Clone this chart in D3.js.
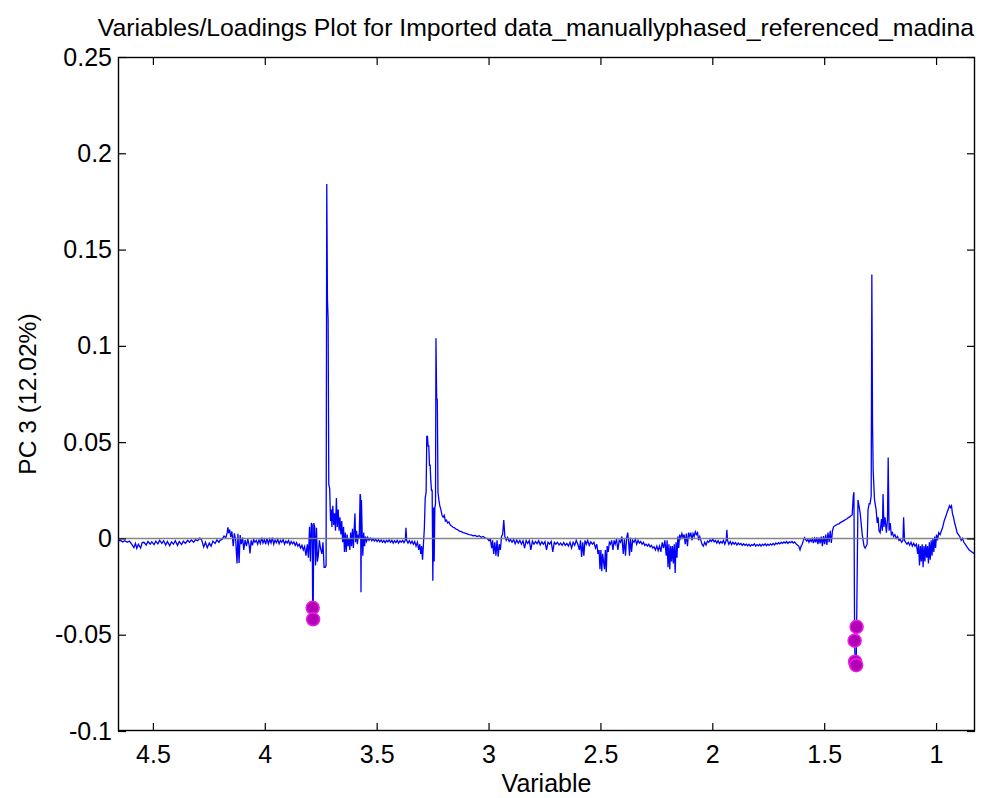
<!DOCTYPE html>
<html>
<head>
<meta charset="utf-8">
<script src="https://cdn.jsdelivr.net/npm/d3@7"></script>
<style>
  body { margin: 0; background: #fff; }
  svg { display: block; font-family: "Liberation Sans", Arial, sans-serif; }
  .tick line { stroke: #000; stroke-width: 1.2; }
  .tick text { font-size: 25px; fill: #000; }
</style>
</head>
<body>
<main></main>
<script>
// Ejes / etiquetas
const titulo = 'Variables/Loadings Plot for Imported data_manuallyphased_referenced_madina';
const etiquetaX = 'Variable';
const etiquetaY = 'PC 3 (12.02%)';
const ticksX = [4.5, 4, 3.5, 3, 2.5, 2, 1.5, 1];
const ticksY = [-0.1, -0.05, 0, 0.05, 0.1, 0.15, 0.2, 0.25];
const dominioX = [4.656, 0.826];
const dominioY = [-0.1, 0.25];

// Desplazamiento químico (ppm) de cada variable
const ppm = [
  4.655, 4.645, 4.635, 4.625, 4.615, 4.605, 4.595, 4.585, 4.578, 4.572, 4.565, 4.555, 4.548, 4.540, 4.530, 4.522, 4.512, 4.505, 4.495, 4.487,
  4.478, 4.470, 4.460, 4.452, 4.443, 4.435, 4.425, 4.417, 4.408, 4.400, 4.390, 4.382, 4.372, 4.364, 4.355, 4.345, 4.337, 4.328, 4.318, 4.310,
  4.300, 4.290, 4.282, 4.273, 4.265, 4.257, 4.248, 4.240, 4.232, 4.222, 4.214, 4.205,
  4.200, 4.190, 4.182, 4.174, 4.168, 4.165, 4.161, 4.157, 4.152, 4.147, 4.141, 4.136, 4.130, 4.124, 4.120, 4.115, 4.110, 4.105, 4.099, 4.094,
  4.088, 4.082, 4.076, 4.070, 4.066, 4.061, 4.055, 4.050, 4.044,
  4.038, 4.032, 4.026, 4.020, 4.014, 4.008, 4.002, 3.996, 3.990, 3.984, 3.978, 3.972, 3.966, 3.960, 3.954, 3.948, 3.942, 3.936, 3.930, 3.924,
  3.918, 3.912, 3.906, 3.900, 3.894, 3.888, 3.882, 3.876, 3.870, 3.864, 3.858, 3.852, 3.846, 3.840, 3.834, 3.828, 3.822, 3.816, 3.810, 3.805,
  3.800, 3.796, 3.792, 3.788, 3.786, 3.784, 3.781, 3.777, 3.773, 3.769, 3.765, 3.761, 3.756, 3.751, 3.745, 3.740, 3.735, 3.730, 3.726,
  3.723, 3.720, 3.717, 3.714, 3.710, 3.706, 3.703, 3.700, 3.696, 3.692, 3.688, 3.684, 3.680, 3.676, 3.672, 3.668, 3.664, 3.660, 3.656, 3.652,
  3.648, 3.644, 3.640, 3.636, 3.632, 3.628, 3.624, 3.620, 3.616, 3.612, 3.608, 3.604, 3.600, 3.597, 3.594, 3.590, 3.586, 3.582, 3.578, 3.574,
  3.572, 3.570, 3.568, 3.565, 3.562, 3.558, 3.554, 3.550, 3.545, 3.540, 3.534,
  3.528, 3.522, 3.516, 3.510, 3.504, 3.498, 3.492, 3.486, 3.480, 3.474, 3.468, 3.462, 3.456, 3.450, 3.444, 3.438, 3.432, 3.426, 3.420, 3.414,
  3.408, 3.402, 3.396, 3.390, 3.384, 3.378, 3.372, 3.369, 3.366, 3.360, 3.354, 3.348, 3.342, 3.336, 3.330, 3.324, 3.318, 3.312, 3.307, 3.303,
  3.299, 3.295, 3.291, 3.287, 3.283, 3.279, 3.276, 3.273, 3.270, 3.267, 3.264, 3.261, 3.258, 3.255, 3.252, 3.249, 3.246, 3.243, 3.240, 3.237,
  3.235, 3.232, 3.229, 3.226, 3.222, 3.218, 3.213, 3.208, 3.203, 3.198, 3.193, 3.188, 3.183, 3.177, 3.171, 3.165, 3.159, 3.152, 3.145, 3.138,
  3.130, 3.122, 3.114, 3.105, 3.096, 3.087, 3.078, 3.069, 3.060, 3.051, 3.042, 3.033, 3.024, 3.015, 3.006,
  2.998, 2.992, 2.986, 2.982, 2.977, 2.972, 2.967, 2.962, 2.957, 2.952, 2.947, 2.942, 2.937, 2.932, 2.927, 2.921, 2.915, 2.908, 2.902, 2.895,
  2.888, 2.881, 2.874, 2.867, 2.860, 2.853, 2.846, 2.839, 2.832, 2.825, 2.818, 2.811, 2.804, 2.797, 2.790, 2.783, 2.776, 2.769, 2.762, 2.755,
  2.748, 2.741, 2.734, 2.727, 2.720, 2.713, 2.706, 2.699, 2.692, 2.685, 2.678, 2.671, 2.664, 2.657, 2.650, 2.643, 2.636, 2.629, 2.622, 2.615,
  2.608, 2.601, 2.594, 2.589, 2.584, 2.579, 2.574, 2.569, 2.563, 2.557, 2.550, 2.543, 2.536, 2.529, 2.522, 2.516, 2.511, 2.506, 2.502, 2.498,
  2.494, 2.490, 2.486, 2.482, 2.478, 2.474, 2.470, 2.465, 2.460, 2.455, 2.450, 2.444, 2.439, 2.434, 2.428, 2.422, 2.416, 2.410, 2.404, 2.398,
  2.393, 2.388, 2.383, 2.378, 2.374, 2.370, 2.366, 2.361, 2.356, 2.350, 2.344, 2.338, 2.332, 2.326, 2.320, 2.314, 2.308, 2.302, 2.296, 2.290,
  2.284, 2.278, 2.272, 2.266, 2.260, 2.254, 2.248, 2.242, 2.236, 2.230, 2.224, 2.218, 2.212, 2.206, 2.202, 2.198, 2.194, 2.190, 2.186, 2.182,
  2.178, 2.174, 2.170, 2.166, 2.162, 2.158, 2.154, 2.150, 2.146, 2.141, 2.136, 2.131, 2.126, 2.121, 2.116, 2.111, 2.106, 2.101, 2.096, 2.091,
  2.086, 2.081, 2.076, 2.071, 2.066, 2.061, 2.056, 2.051, 2.046, 2.040, 2.034, 2.028, 2.022, 2.016, 2.010, 2.004, 1.998, 1.992, 1.986, 1.980,
  1.974, 1.968, 1.962, 1.956, 1.950, 1.944, 1.938, 1.935, 1.932, 1.926, 1.920, 1.914, 1.908, 1.902, 1.896, 1.890, 1.884, 1.878, 1.872, 1.866,
  1.860, 1.854, 1.848, 1.842, 1.836, 1.830, 1.824, 1.818, 1.812, 1.806, 1.800, 1.794, 1.788, 1.782, 1.776, 1.770, 1.764, 1.758, 1.752, 1.746,
  1.740, 1.734, 1.728, 1.722, 1.716, 1.710, 1.704, 1.698, 1.692, 1.686, 1.680, 1.674, 1.668, 1.662, 1.656, 1.650, 1.644, 1.638, 1.632, 1.626,
  1.620, 1.614, 1.608, 1.603, 1.598, 1.593, 1.588, 1.583, 1.578, 1.573, 1.568, 1.563, 1.558, 1.553, 1.548, 1.543, 1.538, 1.533, 1.528, 1.523,
  1.518, 1.513, 1.508, 1.503, 1.498, 1.493, 1.488, 1.483, 1.478, 1.473, 1.468, 1.463, 1.458, 1.452, 1.446, 1.440, 1.434, 1.428, 1.422, 1.416,
  1.410, 1.404, 1.398, 1.392, 1.386, 1.380, 1.375, 1.370, 1.367, 1.364, 1.362, 1.357, 1.355, 1.349, 1.343, 1.339, 1.330, 1.322, 1.317, 1.308,
  1.304, 1.299, 1.295, 1.290, 1.287, 1.284, 1.281, 1.275, 1.268, 1.263, 1.259, 1.255, 1.250, 1.244, 1.240, 1.237, 1.233, 1.228, 1.222, 1.217,
  1.214, 1.210, 1.205, 1.200, 1.195, 1.190, 1.184, 1.178, 1.172, 1.166, 1.160, 1.154, 1.148, 1.145, 1.141, 1.136, 1.130, 1.124, 1.118, 1.112,
  1.106, 1.100, 1.094, 1.088, 1.082, 1.078, 1.074, 1.070, 1.066, 1.062, 1.058, 1.054, 1.050, 1.046, 1.042, 1.038, 1.034, 1.030, 1.026, 1.022,
  1.018, 1.014, 1.010, 1.006, 1.002, 0.998, 0.994, 0.988, 0.982, 0.976, 0.970, 0.964, 0.958, 0.952, 0.946, 0.940, 0.936, 0.931, 0.927, 0.922,
  0.917, 0.912, 0.906, 0.900, 0.894, 0.888, 0.882, 0.876, 0.870, 0.864, 0.858, 0.852, 0.846, 0.840, 0.834, 0.826
];

// Carga sobre PC 3 de cada variable (mismo orden que ppm)
const carga = [
  -0.0012, -0.0010, -0.0018, -0.0012, -0.0020, -0.0014, -0.0030, -0.0048, -0.0026, -0.0052, -0.0030, -0.0050, -0.0022, -0.0020, -0.0034, -0.0016, -0.0030, -0.0018, -0.0032, -0.0014,
  -0.0028, -0.0010, -0.0026, -0.0012, -0.0034, -0.0016, -0.0038, -0.0018, -0.0030, -0.0012, -0.0036, -0.0016, -0.0032, -0.0014, -0.0026, -0.0010, -0.0020, -0.0008, -0.0020, -0.0006,
  -0.0012, 0.0002, -0.0008, -0.0044, -0.0020, -0.0048, -0.0024, -0.0040, -0.0014, -0.0026, -0.0008, -0.0020,
  -0.0010, -0.0004, 0.0012, 0.0004, 0.0030, 0.0058, 0.0028, 0.0046, 0.0008, 0.0036, -0.0040, 0.0026, -0.0010, -0.0130, 0.0024, -0.0128, 0.0018, -0.0030, 0.0004, -0.0060,
  -0.0008, -0.0040, -0.0004, -0.0034, -0.0078, -0.0010, -0.0036, -0.0006, -0.0020,
  -0.0010, -0.0030, -0.0008, -0.0026, 0.0004, -0.0024, -0.0006, -0.0030, 0.0002, -0.0028, -0.0004, -0.0024, 0.0004, -0.0030, -0.0008, -0.0022, -0.0004, -0.0028, -0.0010, -0.0020,
  -0.0006, -0.0030, -0.0014, -0.0024, -0.0010, -0.0032, -0.0016, -0.0028, -0.0018, -0.0036, -0.0022, -0.0040, -0.0030, -0.0050, -0.0036, -0.0060, -0.0042, -0.0090, -0.0030, -0.0100,
  0.0060, -0.0120, 0.0080, 0.0070, -0.0360, -0.0420, 0.0080, 0.0060, -0.0140, 0.0055, -0.0120, -0.0090, -0.0010, -0.0050, -0.0080, -0.0020, -0.0150, -0.0150, -0.0140,
  0.1840, 0.1240, 0.1140, 0.0280, 0.0260, 0.0090, 0.0150, 0.0060, 0.0170, 0.0070, 0.0130, 0.0040, 0.0210, 0.0060, 0.0150, 0.0040, 0.0110, 0.0020, 0.0090, -0.0020,
  0.0060, -0.0070, 0.0030, -0.0070, 0.0020, -0.0040, 0.0000, -0.0060, 0.0030, -0.0040, 0.0050, -0.0050, 0.0060, 0.0130, -0.0020, 0.0040, -0.0030, 0.0020, 0.0000, 0.0230,
  0.0220, -0.0280, 0.0200, 0.0040, -0.0090, 0.0030, -0.0040, 0.0010, -0.0015, 0.0005, -0.0010,
  0.0002, -0.0012, -0.0002, -0.0014, -0.0004, -0.0016, -0.0006, -0.0018, -0.0008, -0.0020, -0.0010, -0.0022, -0.0010, -0.0018, -0.0008, -0.0020, -0.0010, -0.0024, -0.0012, -0.0022,
  -0.0010, -0.0024, -0.0012, -0.0020, -0.0010, -0.0022, -0.0008, 0.0055, -0.0010, -0.0024, -0.0012, -0.0026, -0.0014, -0.0030, -0.0016, -0.0040, -0.0020, -0.0060, -0.0030, -0.0080,
  -0.0040, -0.0110, -0.0030, 0.0050, 0.0210, 0.0240, 0.0530, 0.0530, 0.0480, 0.0480, 0.0380, 0.0380, 0.0300, 0.0250, 0.0250, -0.0220, 0.0160, -0.0120, 0.0160, 0.0180,
  0.1040, 0.0730, 0.0720, 0.0240, 0.0200, 0.0170, 0.0150, 0.0120, 0.0110, 0.0120, 0.0090, 0.0095, 0.0080, 0.0085, 0.0070, 0.0065, 0.0058, 0.0055, 0.0048, 0.0045,
  0.0038, 0.0035, 0.0030, 0.0028, 0.0024, 0.0020, 0.0018, 0.0014, 0.0016, 0.0010, 0.0014, 0.0006, 0.0010, 0.0002, 0.0000,
  -0.0012, -0.0004, -0.0050, -0.0010, -0.0080, -0.0020, -0.0090, -0.0010, -0.0095, -0.0030, -0.0060, 0.0010, 0.0020, 0.0095, 0.0010, -0.0010, 0.0005, -0.0015, -0.0005, -0.0020,
  -0.0006, -0.0028, -0.0008, -0.0024, -0.0010, -0.0030, -0.0012, -0.0050, -0.0010, -0.0026, -0.0012, -0.0060, -0.0014, -0.0030, -0.0016, -0.0028, -0.0012, -0.0034, -0.0018, -0.0030,
  -0.0016, -0.0060, -0.0020, -0.0030, -0.0016, -0.0070, -0.0020, -0.0030, -0.0020, -0.0034, -0.0024, -0.0036, -0.0022, -0.0036, -0.0026, -0.0040, -0.0020, -0.0050, -0.0020, -0.0036,
  -0.0010, -0.0030, -0.0060, -0.0010, -0.0096, -0.0020, -0.0090, -0.0010, -0.0030, -0.0010, -0.0036, -0.0018, -0.0030, -0.0020, -0.0050, -0.0030, -0.0080, -0.0060, -0.0160, -0.0060,
  -0.0170, -0.0080, -0.0120, -0.0160, -0.0060, -0.0175, -0.0040, -0.0070, -0.0020, -0.0030, -0.0010, -0.0060, -0.0010, -0.0030, -0.0004, -0.0060, -0.0010, -0.0020, 0.0010, -0.0080,
  -0.0004, -0.0090, 0.0002, 0.0030, -0.0020, -0.0090, 0.0004, -0.0070, -0.0010, -0.0020, -0.0004, -0.0030, -0.0010, -0.0024, -0.0016, -0.0030, -0.0020, -0.0036, -0.0030, -0.0040,
  -0.0030, -0.0044, -0.0036, -0.0050, -0.0044, -0.0060, -0.0040, -0.0064, -0.0040, -0.0070, -0.0020, -0.0050, -0.0010, -0.0090, -0.0010, -0.0150, -0.0030, -0.0160, -0.0040, -0.0120,
  -0.0040, -0.0130, -0.0030, -0.0180, -0.0020, -0.0100, 0.0010, -0.0050, 0.0020, 0.0000, 0.0025, 0.0005, 0.0020, -0.0030, 0.0025, -0.0040, 0.0030, 0.0010, 0.0030, -0.0010,
  0.0025, 0.0010, 0.0035, 0.0020, 0.0030, -0.0010, 0.0010, -0.0010, -0.0030, -0.0040, -0.0020, -0.0034, -0.0014, -0.0020, -0.0008, -0.0016, -0.0004, -0.0018, -0.0010, -0.0024,
  -0.0012, -0.0026, -0.0016, -0.0024, -0.0010, -0.0030, -0.0010, 0.0045, -0.0010, -0.0030, -0.0016, -0.0032, -0.0020, -0.0030, -0.0022, -0.0034, -0.0024, -0.0032, -0.0026, -0.0036,
  -0.0028, -0.0036, -0.0030, -0.0038, -0.0030, -0.0040, -0.0032, -0.0036, -0.0028, -0.0040, -0.0032, -0.0038, -0.0030, -0.0040, -0.0030, -0.0036, -0.0028, -0.0038, -0.0030, -0.0036,
  -0.0028, -0.0034, -0.0026, -0.0034, -0.0024, -0.0030, -0.0022, -0.0028, -0.0020, -0.0026, -0.0018, -0.0024, -0.0016, -0.0026, -0.0018, -0.0022, -0.0016, -0.0024, -0.0018, -0.0028,
  -0.0034, -0.0040, -0.0060, -0.0040, -0.0030, -0.0010, 0.0004, -0.0006, -0.0014, -0.0004, -0.0020, -0.0006, -0.0016, -0.0002, -0.0024, 0.0000, -0.0020, 0.0006, -0.0030, 0.0004,
  -0.0026, 0.0010, -0.0040, 0.0012, -0.0030, 0.0020, -0.0034, 0.0030, -0.0020, 0.0040, -0.0024, 0.0040, 0.0060, 0.0066, 0.0070, 0.0074, 0.0076, 0.0082, 0.0086, 0.0090,
  0.0094, 0.0098, 0.0102, 0.0108, 0.0112, 0.0118, 0.0122, 0.0220, 0.0240, -0.0531, -0.0640, -0.0658, -0.0459, 0.0200, 0.0160, 0.0130, 0.0020, -0.0040, -0.0050, -0.0030,
  0.0150, 0.0180, 0.0180, 0.0220, 0.1370, 0.0600, 0.0350, 0.0200, 0.0150, 0.0080, 0.0110, 0.0040, 0.0030, 0.0100, 0.0040, 0.0230, 0.0060, 0.0110, 0.0030, 0.0100,
  0.0420, 0.0040, 0.0080, 0.0020, 0.0030, 0.0010, 0.0020, 0.0000, 0.0010, -0.0010, -0.0005, -0.0020, -0.0010, 0.0110, -0.0010, -0.0020, -0.0030, -0.0020, -0.0035, -0.0020,
  -0.0040, -0.0025, -0.0040, -0.0030, -0.0080, -0.0030, -0.0140, -0.0040, -0.0120, -0.0030, -0.0150, -0.0040, -0.0120, -0.0030, -0.0100, -0.0040, -0.0130, -0.0020, -0.0110, -0.0010,
  -0.0090, 0.0000, -0.0070, 0.0010, -0.0050, 0.0020, -0.0010, 0.0030, 0.0020, 0.0040, 0.0060, 0.0090, 0.0110, 0.0130, 0.0150, 0.0170, 0.0160, 0.0170, 0.0130, 0.0110,
  0.0080, 0.0060, 0.0030, 0.0020, 0.0010, -0.0010, 0.0000, -0.0020, -0.0030, -0.0040, -0.0050, -0.0060, -0.0065, -0.0070, -0.0075, -0.0080
];

// Variables seleccionadas (puntos magenta)
const selPpm = [3.786, 3.784, 1.364, 1.362, 1.357, 1.355];
const selCarga = [-0.0360, -0.0420, -0.0531, -0.0640, -0.0658, -0.0459];

//Dimensiones
const [w, h] = [994, 798];
const margen = { top: 57, right: 19, bottom: 67, left: 118 };

const svg = d3.select('main')
    .append('svg')
    .attr('width', w)
    .attr('height', h);

//Escalas (eje X invertido, como en RMN)
const xScale = d3.scaleLinear()
    .domain(dominioX)
    .range([margen.left, w - margen.right]);

const yScale = d3.scaleLinear()
    .domain(dominioY)
    .range([h - margen.bottom, margen.top]);

const datos = ppm.map((p, i) => ({ x: p, y: carga[i] }));
const seleccion = selPpm.map((p, i) => ({ x: p, y: selCarga[i] }));

//Recorte al área de los ejes
svg.append('clipPath')
    .attr('id', 'recorte')
    .append('rect')
    .attr('x', margen.left)
    .attr('y', margen.top)
    .attr('width', w - margen.left - margen.right)
    .attr('height', h - margen.top - margen.bottom);

//Curva de cargas
const linea = d3.line()
    .x(d => xScale(d.x))
    .y(d => yScale(d.y));

svg.append('path')
    .datum(datos)
    .attr('clip-path', 'url(#recorte)')
    .attr('d', linea)
    .attr('fill', 'none')
    .attr('stroke', '#0000ff')
    .attr('stroke-width', 1.3);

//Línea del cero
svg.append('line')
    .attr('x1', margen.left)
    .attr('x2', w - margen.right)
    .attr('y1', yScale(0))
    .attr('y2', yScale(0))
    .attr('stroke', '#7a7a7a')
    .attr('stroke-width', 1.4)
    .attr('opacity', 0.9);

//Puntos seleccionados
svg.selectAll('circle')
    .data(seleccion)
    .enter()
    .append('circle')
    .attr('cx', d => xScale(d.x))
    .attr('cy', d => yScale(d.y))
    .attr('r', 6.5)
    .attr('fill', '#b400b4')
    .attr('stroke', '#e820e8')
    .attr('stroke-width', 1.5);

//Ejes (ticks hacia dentro en los cuatro lados)
const fmt = d => String(d);

svg.append('g')
    .attr('transform', 'translate(0,' + (h - margen.bottom) + ')')
    .call(d3.axisBottom(xScale).tickValues(ticksX).tickSizeInner(-8).tickSizeOuter(0).tickPadding(14).tickFormat(fmt))
    .call(g => g.select('.domain').remove());

svg.append('g')
    .attr('transform', 'translate(0,' + margen.top + ')')
    .call(d3.axisTop(xScale).tickValues(ticksX).tickSizeInner(-8).tickSizeOuter(0).tickFormat(''))
    .call(g => g.select('.domain').remove());

svg.append('g')
    .attr('transform', 'translate(' + margen.left + ',0)')
    .call(d3.axisLeft(yScale).tickValues(ticksY).tickSizeInner(-8).tickSizeOuter(0).tickPadding(6).tickFormat(fmt))
    .call(g => g.select('.domain').remove());

svg.append('g')
    .attr('transform', 'translate(' + (w - margen.right) + ',0)')
    .call(d3.axisRight(yScale).tickValues(ticksY).tickSizeInner(-8).tickSizeOuter(0).tickFormat(''))
    .call(g => g.select('.domain').remove());

//Marco
svg.append('rect')
    .attr('x', margen.left + 0.5)
    .attr('y', margen.top + 0.5)
    .attr('width', w - margen.left - margen.right - 1)
    .attr('height', h - margen.top - margen.bottom - 1)
    .attr('fill', 'none')
    .attr('stroke', '#000')
    .attr('stroke-width', 1.4);

//Textos
svg.append('text')
    .attr('x', 536)
    .attr('y', 36)
    .attr('text-anchor', 'middle')
    .attr('font-size', 24.8)
    .text(titulo);

svg.append('text')
    .attr('x', (margen.left + w - margen.right) / 2)
    .attr('y', 792)
    .attr('text-anchor', 'middle')
    .attr('font-size', 25)
    .text(etiquetaX);

svg.append('text')
    .attr('transform', 'translate(36,' + ((margen.top + h - margen.bottom) / 2) + ') rotate(-90)')
    .attr('text-anchor', 'middle')
    .attr('font-size', 24.6)
    .text(etiquetaY);
</script>
</body>
</html>
